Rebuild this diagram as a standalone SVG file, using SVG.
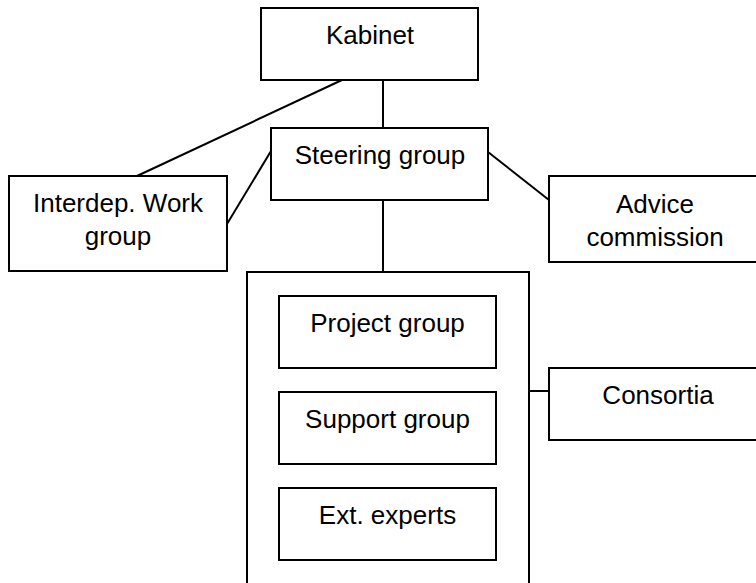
<svg xmlns="http://www.w3.org/2000/svg" width="756" height="583" viewBox="0 0 756 583">
  <style>
    .box { fill: #ffffff; stroke: #000000; stroke-width: 2; }
    .link { fill: none; stroke: #000000; stroke-width: 2; }
    .label { font-family: "Liberation Sans", Arial, sans-serif; font-size: 26px; fill: #000000; text-anchor: middle; }
  </style>
  <rect width="756" height="583" fill="#ffffff"/>

  <!-- connectors -->
  <g id="connectors">
    <line class="link" x1="342" y1="80" x2="137" y2="176"/>
    <line class="link" x1="383" y1="80" x2="383" y2="128"/>
    <line class="link" x1="271" y1="151" x2="227" y2="224"/>
    <line class="link" x1="488" y1="152" x2="549" y2="200"/>
    <line class="link" x1="383" y1="200" x2="383" y2="272"/>
    <line class="link" x1="529" y1="391" x2="549" y2="391"/>
  </g>

  <g id="kabinet">
    <rect class="box" x="261" y="8" width="217" height="72"/>
    <text class="label" x="370" y="44">Kabinet</text>
  </g>

  <g id="steering-group">
    <rect class="box" x="271" y="128" width="217" height="72"/>
    <text class="label" x="380" y="164">Steering group</text>
  </g>

  <g id="interdep-work-group">
    <rect class="box" x="9" y="176" width="218" height="95"/>
    <text class="label" x="118" y="212">Interdep. Work</text>
    <text class="label" x="118" y="245">group</text>
  </g>

  <g id="advice-commission">
    <rect class="box" x="549" y="176" width="215" height="86"/>
    <text class="label" x="655" y="213">Advice</text>
    <text class="label" x="655" y="246">commission</text>
  </g>

  <g id="project-organisation">
    <rect class="box" x="247" y="272" width="282" height="320"/>
  </g>

  <g id="project-group">
    <rect class="box" x="279" y="296" width="217" height="72"/>
    <text class="label" x="387.5" y="332">Project group</text>
  </g>

  <g id="support-group">
    <rect class="box" x="279" y="392" width="217" height="72"/>
    <text class="label" x="387.5" y="428">Support group</text>
  </g>

  <g id="ext-experts">
    <rect class="box" x="279" y="488" width="217" height="72"/>
    <text class="label" x="387.5" y="524">Ext. experts</text>
  </g>

  <g id="consortia">
    <rect class="box" x="549" y="368" width="215" height="72"/>
    <text class="label" x="658" y="404">Consortia</text>
  </g>
</svg>
